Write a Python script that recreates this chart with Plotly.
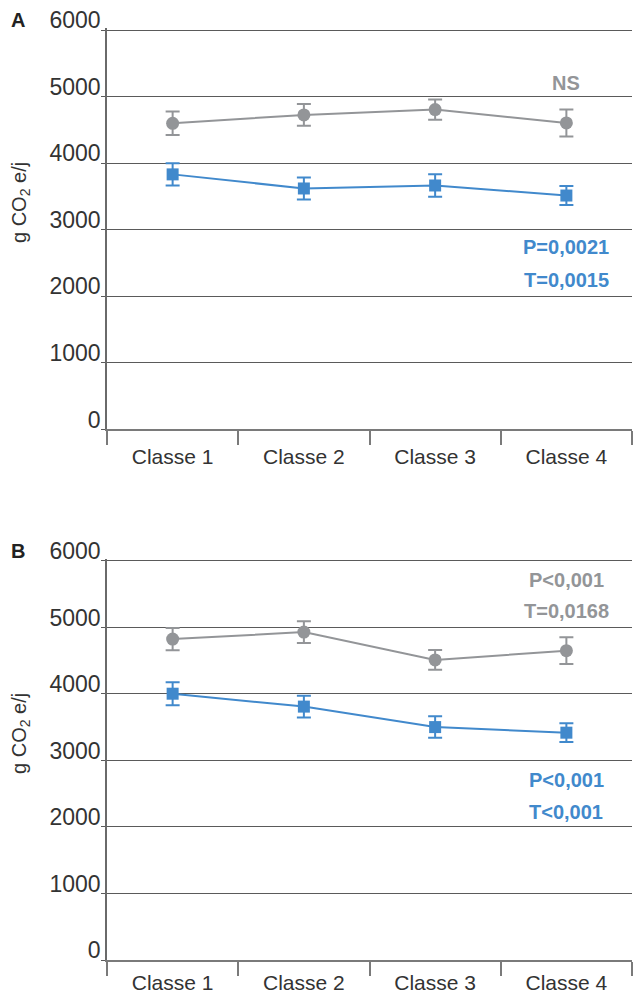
import plotly.graph_objects as go

# Categories and series values (g CO2 e/j)
classes = ["Classe 1", "Classe 2", "Classe 3", "Classe 4"]
y_ticks = [0, 1000, 2000, 3000, 4000, 5000, 6000]

grey_a = [4597, 4723, 4803, 4602]
grey_a_err = [176, 164, 152, 202]
blue_a = [3829, 3617, 3662, 3511]
blue_a_err = [167, 164, 169, 144]

grey_b = [4825, 4930, 4512, 4651]
grey_b_err = [168, 162, 149, 200]
blue_b = [4004, 3810, 3502, 3418]
blue_b_err = [174, 162, 162, 141]

# Statistic labels: (text, y value, colour key)
stats_a = [("NS", 5210, "grey"), ("P=0,0021", 2740, "blue"), ("T=0,0015", 2245, "blue")]
stats_b = [("P&lt;0,001", 5714, "grey"), ("T=0,0168", 5248, "grey"),
           ("P&lt;0,001", 2707, "blue"), ("T&lt;0,001", 2226, "blue")]

GREY = "#939598"
BLUE = "#4189cc"
COLORS = {"grey": GREY, "blue": BLUE}
TEXT = "#333333"
GRID = "#5a5a5a"
FONT = "Liberation Sans, Arial, sans-serif"
BOLD_FONT = "Liberation Sans, Arial, sans-serif"


def series(x, y, err, color, symbol, size, xa, ya):
    return go.Scatter(
        x=x, y=y, mode="lines+markers",
        line=dict(color=color, width=2),
        marker=dict(color=color, symbol=symbol, size=size),
        error_y=dict(type="data", array=err, color=color, thickness=2, width=7),
        xaxis=xa, yaxis=ya, showlegend=False, cliponaxis=False,
    )


fig = go.Figure()
fig.add_trace(series(classes, grey_a, grey_a_err, GREY, "circle", 13, "x", "y"))
fig.add_trace(series(classes, blue_a, blue_a_err, BLUE, "square", 12, "x", "y"))
fig.add_trace(series(classes, grey_b, grey_b_err, GREY, "circle", 13, "x2", "y2"))
fig.add_trace(series(classes, blue_b, blue_b_err, BLUE, "square", 12, "x2", "y2"))

xaxis_style = dict(
    type="category", range=[-0.5, 3.5], showgrid=False, automargin=False,
    showline=True, linecolor="#7a7a7a", linewidth=1.5,
    ticks="outside", tickson="boundaries", ticklen=14, tickcolor="#7a7a7a", tickwidth=1.5,
    tickfont=dict(family=FONT, size=21, color=TEXT), fixedrange=True,
)
# range runs a little past 6000 so the top gridline is not clipped at the edge
yaxis_style = dict(
    range=[0, 6030], tickvals=y_ticks, ticktext=[str(v) for v in y_ticks],
    showgrid=True, gridcolor=GRID, gridwidth=1, zeroline=False, automargin=False,
    showline=True, linecolor="#6a6a6a", linewidth=1.5,
    ticks="outside", ticklen=4, tickcolor=GRID, ticklabelposition="outside top",
    ticklabelshift=7,
    tickfont=dict(family=FONT, size=23, color=TEXT), fixedrange=True,
)

fig.update_layout(
    width=635, height=994,
    margin=dict(l=107, r=3, t=28, b=34),
    paper_bgcolor="white", plot_bgcolor="white",
    xaxis=dict(domain=[0, 1], anchor="y", ticklabelstandoff=8, **xaxis_style),
    yaxis=dict(domain=[0.5697, 1], anchor="x", **yaxis_style),
    xaxis2=dict(domain=[0, 1], anchor="y2", ticklabelstandoff=3, **xaxis_style),
    yaxis2=dict(domain=[0, 0.4303], anchor="x2", **yaxis_style),
)

annotations = []
for stats, xr, yr in ((stats_a, "x", "y"), (stats_b, "x2", "y2")):
    for text, yv, key in stats:
        annotations.append(dict(
            text="<b>" + text + "</b>", x="Classe 4", y=yv, xref=xr, yref=yr,
            showarrow=False, xanchor="center", yanchor="middle",
            font=dict(family=BOLD_FONT, size=20, color=COLORS[key]),
        ))

for label, yr in (("A", "y"), ("B", "y2")):
    annotations.append(dict(
        text="<b>" + label + "</b>", x=-0.1695, y=1.02, xref="paper", yref=yr + " domain",
        showarrow=False, xanchor="center", yanchor="middle",
        font=dict(family=BOLD_FONT, size=20, color="#222222"),
    ))
    annotations.append(dict(
        text="g CO<sub>2</sub> e/j", x=-0.165, y=3404, xref="paper", yref=yr,
        textangle=-90, showarrow=False, xanchor="center", yanchor="middle",
        font=dict(family=FONT, size=20, color=TEXT),
    ))

fig.update_layout(annotations=annotations)

fig.write_html("out.html")
